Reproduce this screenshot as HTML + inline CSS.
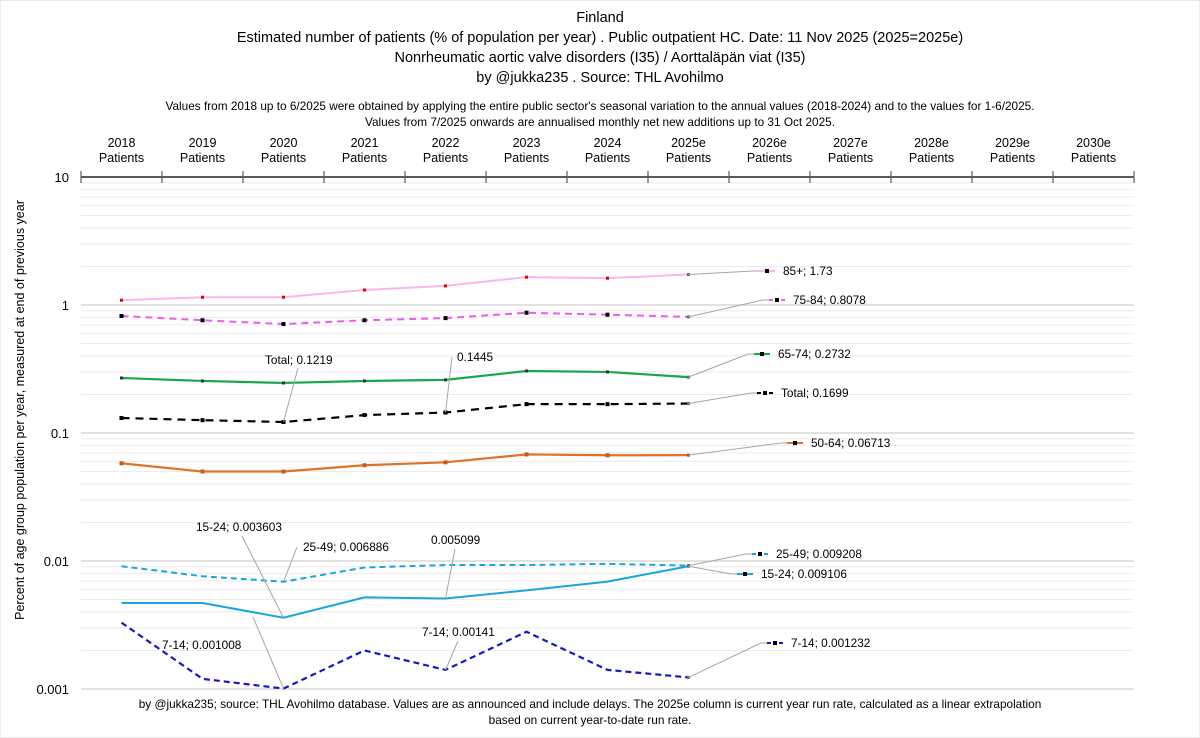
<!DOCTYPE html>
<html><head><meta charset="utf-8"><style>
body{margin:0;background:#fff;}
svg{display:block;font-family:"Liberation Sans",sans-serif;}
</style></head><body>
<svg id="chart" width="1200" height="738" viewBox="0 0 1200 738">
<rect x="0" y="0" width="1200" height="738" fill="#fff" stroke="#d9d9d9"/>
<g font-size="14.5" fill="#000" text-anchor="middle">
<text x="600" y="22">Finland</text>
<text x="600" y="42">Estimated number of patients  (% of population per year) . Public outpatient HC. Date: 11 Nov 2025 (2025=2025e)</text>
<text x="600" y="62">Nonrheumatic aortic valve disorders (I35) / Aorttaläpän viat (I35)</text>
<text x="600" y="82">by @jukka235 . Source: THL Avohilmo</text>
</g>
<g font-size="11.8" text-anchor="middle">
<text x="600" y="110">Values from 2018 up to 6/2025 were obtained by applying the entire public sector's seasonal variation to the annual values (2018-2024) and to the values for 1-6/2025.</text>
<text x="600" y="126">Values from 7/2025 onwards are annualised monthly net new additions up to 31 Oct 2025.</text>
</g>
<g id="grid"></g>
<g id="xaxis"></g>
<g id="yaxis"></g>
<text transform="translate(24,410) rotate(-90)" font-size="12.5" text-anchor="middle">Percent of age group population per year, measured at end of previous year</text>
<g id="series"></g>
<g id="annot"></g>
<g font-size="11.8" text-anchor="middle">
<text x="590" y="708">by @jukka235; source: THL Avohilmo database. Values are as announced and include delays. The 2025e column is current year run rate, calculated as a linear extrapolation</text>
<text x="590" y="724">based on current year-to-date run rate.</text>
</g>
</svg>
<script>
const categories=["2018","2019","2020","2021","2022","2023","2024","2025e","2026e","2027e","2028e","2029e","2030e"];
const yTicks=[10,1,0.1,0.01,0.001];
const yTickLabels=["10","1","0.1","0.01","0.001"];
const s85=[1.09,1.15,1.15,1.31,1.41,1.65,1.62,1.73];
const s7584=[0.82,0.76,0.71,0.76,0.79,0.87,0.84,0.8078];
const s6574=[0.269,0.255,0.246,0.255,0.26,0.305,0.30,0.2732];
const sTotal=[0.131,0.126,0.1219,0.138,0.1445,0.168,0.168,0.1699];
const s5064=[0.058,0.050,0.050,0.056,0.059,0.068,0.067,0.06713];
const s2549=[0.0091,0.0076,0.006886,0.0089,0.0093,0.0093,0.0095,0.009208];
const s1524=[0.0047,0.0047,0.003603,0.0052,0.005099,0.0059,0.0069,0.009106];
const s714=[0.0033,0.0012,0.001008,0.0020,0.00141,0.0028,0.00141,0.001232];
const NS="http://www.w3.org/2000/svg";
const X0=81,CW=81,YTOP=177,DEC=128;
function x(i){return X0+CW*(i+0.5);}
function y(v){return YTOP+(1-Math.log10(v))*DEC;}
function mk(tag,attrs,parent){const e=document.createElementNS(NS,tag);for(const k in attrs)e.setAttribute(k,attrs[k]);parent.appendChild(e);return e;}
const grid=document.getElementById('grid'),xa=document.getElementById('xaxis'),ya=document.getElementById('yaxis');
const XR=X0+CW*categories.length;
for(let d=0;d<4;d++){const base=Math.pow(10,1-d-1);for(let m=1;m<10;m++){const v=base*m;const g=mk('line',{x1:X0,x2:XR,y1:y(v),y2:y(v),stroke:m===1?'#d0d0d0':'#ececec','stroke-width':m===1?1.2:1},grid);

}}
yTicks.forEach((v,i)=>{const t=mk('text',{x:X0-12,y:y(v)+5,'font-size':13,'text-anchor':'end'},ya);t.textContent=yTickLabels[i];

});
const ax=mk('line',{x1:X0,x2:XR,y1:YTOP,y2:YTOP,stroke:'#595959','stroke-width':2},xa);


for(let i=0;i<=categories.length;i++){const t=mk('line',{x1:X0+CW*i,x2:X0+CW*i,y1:YTOP-6,y2:YTOP+6,stroke:'#595959','stroke-width':1.2},xa);

}
categories.forEach((c,i)=>{const t=mk('text',{x:x(i),y:147,'font-size':12.5,'text-anchor':'middle'},xa);t.textContent=c;


const t2=mk('text',{x:x(i),y:162,'font-size':12.5,'text-anchor':'middle'},xa);t2.textContent='Patients';

});
const ser=document.getElementById('series');
const defs=[
 {n:'85plus',d:s85,c:'#f7b6f0',dash:'',mc:'#e00000',ms:3,w:2,lx:767,ly:271,lab:'85+; 1.73'},
 {n:'75-84',d:s7584,c:'#ee5ce8',dash:'7,5',mc:'#000',ms:4,w:2,lx:777,ly:300,lab:'75-84; 0.8078'},
 {n:'65-74',d:s6574,c:'#1aa64a',dash:'',mc:'#333',ms:3,w:2.2,lx:762,ly:354,lab:'65-74; 0.2732'},
 {n:'total',d:sTotal,c:'#000',dash:'8,6',mc:'#000',ms:4,w:2.2,lx:765,ly:393,lab:'Total; 0.1699'},
 {n:'50-64',d:s5064,c:'#e07228',dash:'',mc:'#c85a18',ms:4,w:2.2,lx:795,ly:443,lab:'50-64; 0.06713'},
 {n:'25-49',d:s2549,c:'#1aa5e0',dash:'6,4',mc:'#1aa5e0',ms:0,w:2,lx:760,ly:554,lab:'25-49; 0.009208'},
 {n:'15-24',d:s1524,c:'#1aa5e0',dash:'',mc:'#1aa5e0',ms:0,w:2,lx:745,ly:574,lab:'15-24; 0.009106'},
 {n:'7-14',d:s714,c:'#1818c8',dash:'6,4',mc:'#1818c8',ms:0,w:2.2,lx:775,ly:643,lab:'7-14; 0.001232'}];
defs.forEach(s=>{
 const pts=s.d.map((v,i)=>x(i)+','+y(v)).join(' ');
 const pl=mk('polyline',{points:pts,fill:'none',stroke:s.c,'stroke-width':s.w,'stroke-dasharray':s.dash},ser);
 
 
 s.d.forEach((v,i)=>{const sz=i===7?3:s.ms;if(!sz)return;const r=mk('rect',{x:x(i)-sz/2,y:y(v)-sz/2,width:sz,height:sz,fill:i===7?'#666':s.mc},ser);
 
 });
 const lx=x(7),ly=y(s.d[7]);
 const ld=mk('polyline',{points:lx+','+ly+' '+(s.lx-14)+','+s.ly+' '+(s.lx-6)+','+s.ly,fill:'none',stroke:'#a6a6a6','stroke-width':1},ser);
 
 
 const lk=mk('line',{x1:s.lx-8,x2:s.lx+8,y1:s.ly,y2:s.ly,stroke:s.c,'stroke-width':2,'stroke-dasharray':s.dash?'4,2':''},ser);
 
 
 const lm=mk('rect',{x:s.lx-2,y:s.ly-2,width:4,height:4,fill:'#000'},ser);
 
 
 const t=mk('text',{x:s.lx+16,y:s.ly+4,'font-size':11.8},ser);t.textContent=s.lab;
 
 
});
const an=document.getElementById('annot');
const notes=[
 {s:sTotal,i:2,tx:265,ty:364,ex:298,ey:368,lab:'Total; 0.1219'},
 {s:sTotal,i:4,tx:457,ty:361,ex:452,ey:357,lab:'0.1445'},
 {s:s1524,i:2,tx:196,ty:531,ex:242,ey:536,lab:'15-24; 0.003603'},
 {s:s2549,i:2,tx:303,ty:551,ex:297,ey:547,lab:'25-49; 0.006886'},
 {s:s1524,i:4,tx:431,ty:544,ex:455,ey:549,lab:'0.005099'},
 {s:s714,i:2,tx:162,ty:649,ex:253,ey:617,lab:'7-14; 0.001008'},
 {s:s714,i:4,tx:422,ty:636,ex:458,ey:641,lab:'7-14; 0.00141'}];
notes.forEach(a=>{
 const l=mk('line',{x1:x(a.i),y1:y(a.s[a.i]),x2:a.ex,y2:a.ey,stroke:'#a6a6a6','stroke-width':1},an);
 
 
 const t=mk('text',{x:a.tx,y:a.ty,'font-size':11.8},an);
 t.textContent=a.lab;
 
 
});
</script>
</body></html>
